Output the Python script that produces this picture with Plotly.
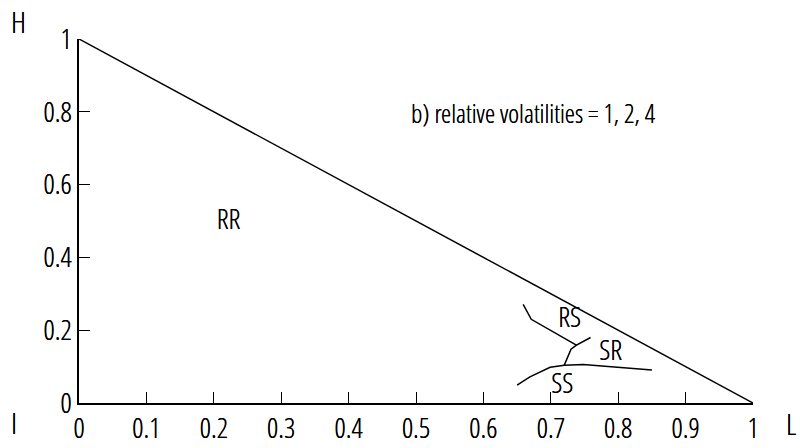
import plotly.graph_objects as go

# Data
boundary_x = [0.0, 1.0]
boundary_y = [1.0, 0.0]

rs_x = [0.659, 0.671, 0.738, 0.759]
rs_y = [0.271, 0.230, 0.159, 0.180]

mid_x = [0.738, 0.730, 0.720]
mid_y = [0.159, 0.148, 0.104]

ss_x = [0.650, 0.669, 0.699, 0.720, 0.748, 0.850]
ss_y = [0.049, 0.072, 0.098, 0.104, 0.106, 0.091]

region_labels = ["RR", "RS", "SR", "SS"]
region_x = [0.222, 0.728, 0.789, 0.717]
region_y = [0.497, 0.228, 0.137, 0.047]

x_ticks = [0, 0.1, 0.2, 0.3, 0.4, 0.5, 0.6, 0.7, 0.8, 0.9, 1]
x_tick_text = ["0", "0.1", "0.2", "0.3", "0.4", "0.5", "0.6", "0.7", "0.8", "0.9", "1"]
y_ticks = [0, 0.2, 0.4, 0.6, 0.8, 1]
y_tick_text = ["0", "0.2", "0.4", "0.6", "0.8", "1"]

FONT = "Open Sans Condensed Light, DejaVu Sans Condensed, sans-serif"
SHADOW = "0px 0px 0.6px black"

fig = go.Figure()
line_style = dict(color="black", width=1.5)
for xs, ys in [(boundary_x, boundary_y), (rs_x, rs_y), (mid_x, mid_y), (ss_x, ss_y)]:
    fig.add_trace(go.Scatter(x=xs, y=ys, mode="lines", line=line_style,
                             showlegend=False, hoverinfo="skip", cliponaxis=False))

fig.add_trace(go.Scatter(x=region_x, y=region_y, mode="text", text=region_labels,
                         textfont=dict(family=FONT, size=28, color="black", shadow=SHADOW),
                         showlegend=False, hoverinfo="skip"))

fig.add_annotation(x=0.674, y=0.797, xref="x", yref="y", text="b) relative volatilities = 1, 2, 4",
                   showarrow=False, font=dict(family=FONT, size=26, color="black", shadow=SHADOW))

L, R, T, B = 79, 47, 39, 45
W, Hh = 800 - L - R, 448 - T - B
def to_paper(px, py):
    return (px - L) / W, (448 - B - py) / Hh
for t, px, py in [("H", 19, 22), ("I", 14, 422), ("L", 791, 423)]:
    xp, yp = to_paper(px, py)
    fig.add_annotation(x=xp, y=yp, xref="paper", yref="paper", text=t, showarrow=False,
                       xanchor="center", yanchor="middle",
                       font=dict(family=FONT, size=30, color="black", shadow=SHADOW))

tickfont = dict(family=FONT, size=28, color="black", shadow=SHADOW)
fig.update_layout(
    width=800, height=448,
    margin=dict(l=L, r=R, t=T, b=B),
    paper_bgcolor="white", plot_bgcolor="white",
    font=dict(family=FONT, size=26, color="black"),
    xaxis=dict(range=[0, 1], tickvals=x_ticks, ticktext=x_tick_text, ticks="inside",
               ticklen=11, tickwidth=1.2, tickcolor="black", showline=True, linecolor="black",
               linewidth=1.5, showgrid=False, zeroline=False, fixedrange=True,
               tickfont=tickfont, ticklabelstandoff=0, automargin=False),
    yaxis=dict(range=[0, 1], tickvals=y_ticks, ticktext=y_tick_text, ticks="inside",
               ticklen=11, tickwidth=1.2, tickcolor="black", showline=True, linecolor="black",
               linewidth=1.5, showgrid=False, zeroline=False, fixedrange=True,
               tickfont=tickfont, ticklabelstandoff=0, automargin=False),
)

fig.write_html("out.html")
